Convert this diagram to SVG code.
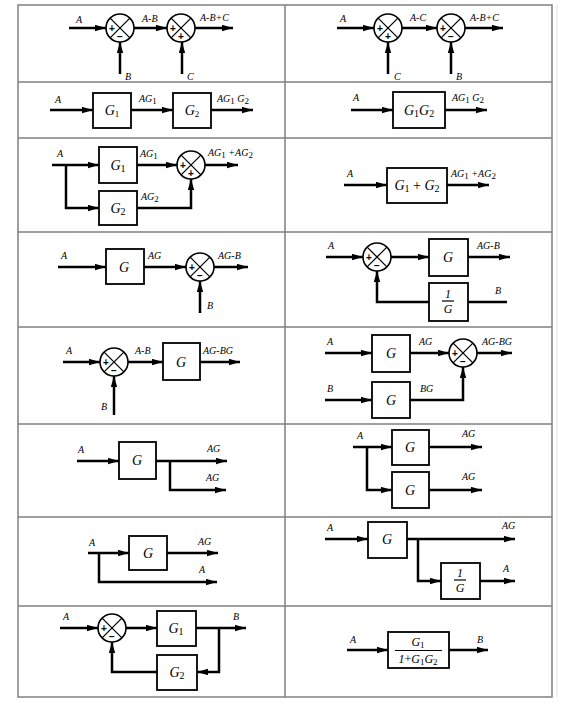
<svg xmlns="http://www.w3.org/2000/svg" xmlns:xlink="http://www.w3.org/1999/xlink" width="579" height="704" viewBox="0 0 579 704">
<style>
.t{font-family:"Liberation Serif","Times New Roman",serif;font-style:italic;font-size:10px;fill:#000}
.g{font-family:"Liberation Serif","Times New Roman",serif;font-style:italic;font-size:14px;fill:#000;text-anchor:middle}
.s{font-size:9px;font-style:normal}
.sg{font-family:"Liberation Sans",Arial,sans-serif;font-weight:bold;font-size:10px;text-anchor:middle;fill:#000}
.ln{stroke:#000;stroke-width:2.5;fill:none}
.ar{marker-end:url(#ah)}
.box{fill:#fff;stroke:#000;stroke-width:1.8}
.grid{stroke:#808080;stroke-width:1.5;fill:none}
</style>
<defs>
<marker id="ah" markerUnits="userSpaceOnUse" markerWidth="12" markerHeight="8" refX="11" refY="3.2" orient="auto">
<path d="M0,0 L11,3.2 L0,6.4 z" fill="#000"/>
</marker>
<g id="sj">
<circle r="14" fill="#fff" stroke="#000" stroke-width="1.6"/>
<path d="M-9.9,-9.9 L9.9,9.9 M-9.9,9.9 L9.9,-9.9" stroke="#000" stroke-width="1.3"/>
</g>
</defs>
<rect width="579" height="704" fill="#fff"/>
<g id="table">
<rect class="grid" x="18" y="5" width="534" height="692"/>
<path class="grid" d="M285,5 V697 M18,82 H552 M18,138 H552 M18,232 H552 M18,327 H552 M18,424 H552 M18,517 H552 M18,606 H552"/>
<path d="M557,5 V697" stroke="#e2e2e2" stroke-width="1"/>
</g>
<g id="connectors">
<!-- row 1 left -->
<path class="ln ar" d="M69,28 H106"/>
<path class="ln ar" d="M134,28 H167"/>
<path class="ln ar" d="M195,28 H233"/>
<path class="ln ar" d="M120,74 V42"/>
<path class="ln ar" d="M182,74 V42"/>
<!-- row 1 right -->
<path class="ln ar" d="M337,28 H374"/>
<path class="ln ar" d="M402,28 H437"/>
<path class="ln ar" d="M465,28 H503"/>
<path class="ln ar" d="M388,74 V42"/>
<path class="ln ar" d="M451,74 V42"/>
<!-- row 2 -->
<path class="ln ar" d="M50,110 H93"/>
<path class="ln ar" d="M131,110 H173"/>
<path class="ln ar" d="M211,110 H253"/>
<path class="ln ar" d="M351,110 H393"/>
<path class="ln ar" d="M445,110 H487"/>
<!-- row 3 left -->
<path class="ln ar" d="M52,165 H99"/>
<path class="ln ar" d="M66,165 V208 H99"/>
<path class="ln ar" d="M137,165 H177"/>
<path class="ln ar" d="M137,208 H191 V179"/>
<path class="ln ar" d="M205,165 H238"/>
<!-- row 3 right -->
<path class="ln ar" d="M344,185 H387"/>
<path class="ln ar" d="M447,185 H489"/>
<!-- row 4 left -->
<path class="ln ar" d="M58,267 H106"/>
<path class="ln ar" d="M144,267 H186"/>
<path class="ln ar" d="M214,267 H248"/>
<path class="ln ar" d="M200,313 V281"/>
<!-- row 4 right -->
<path class="ln ar" d="M326,257 H363"/>
<path class="ln ar" d="M391,257 H429"/>
<path class="ln ar" d="M468,257 H510"/>
<path class="ln" d="M507,302 H468"/>
<path class="ln ar" d="M429,302 H377 V271"/>
<!-- row 5 left -->
<path class="ln ar" d="M63,362 H100"/>
<path class="ln ar" d="M128,362 H163"/>
<path class="ln ar" d="M200,362 H240"/>
<path class="ln ar" d="M114,415 V376"/>
<!-- row 5 right -->
<path class="ln ar" d="M325,353 H372"/>
<path class="ln ar" d="M410,353 H449"/>
<path class="ln ar" d="M477,353 H512"/>
<path class="ln ar" d="M325,400 H372"/>
<path class="ln ar" d="M410,400 H463 V367"/>
<!-- row 6 left -->
<path class="ln ar" d="M77,461 H119"/>
<path class="ln ar" d="M156,461 H227"/>
<path class="ln ar" d="M170,461 V490 H226"/>
<!-- row 6 right -->
<path class="ln ar" d="M353,447 H392"/>
<path class="ln ar" d="M367,447 V490 H392"/>
<path class="ln ar" d="M429,447 H482"/>
<path class="ln ar" d="M429,490 H482"/>
<!-- row 7 left -->
<path class="ln ar" d="M88,553 H129"/>
<path class="ln ar" d="M167,553 H218"/>
<path class="ln ar" d="M99,553 V582 H217"/>
<!-- row 7 right -->
<path class="ln ar" d="M325,539 H368"/>
<path class="ln ar" d="M407,539 H515"/>
<path class="ln ar" d="M418,539 V581 H441"/>
<path class="ln ar" d="M480,581 H515"/>
<!-- row 8 left -->
<path class="ln ar" d="M60,628 H98"/>
<path class="ln ar" d="M126,628 H157"/>
<path class="ln ar" d="M196,628 H246"/>
<path class="ln ar" d="M219,628 V672 H197"/>
<path class="ln ar" d="M157,672 H112 V642"/>
<!-- row 8 right -->
<path class="ln ar" d="M347,650 H388"/>
<path class="ln ar" d="M449,650 H488"/>
</g>
<g id="labels">
<text class="t" x="76" y="23">A</text>
<text class="t" x="142" y="22">A-B</text>
<text class="t" x="200" y="21">A-B+C</text>
<text class="t" x="125" y="80">B</text>
<text class="t" x="187" y="80">C</text>
<text class="t" x="340" y="22">A</text>
<text class="t" x="410" y="21">A-C</text>
<text class="t" x="470" y="21">A-B+C</text>
<text class="t" x="394" y="80">C</text>
<text class="t" x="456" y="80">B</text>
<text class="t" x="55" y="103">A</text>
<text class="t" x="139" y="102">AG<tspan class="s" dy="2">1</tspan></text>
<text class="t" x="217" y="102">AG<tspan class="s" dy="2">1</tspan><tspan dy="-2"> G</tspan><tspan class="s" dy="2">2</tspan></text>
<text class="t" x="353" y="101">A</text>
<text class="t" x="452" y="101">AG<tspan class="s" dy="2">1</tspan><tspan dy="-2"> G</tspan><tspan class="s" dy="2">2</tspan></text>
<text class="t" x="57" y="157">A</text>
<text class="t" x="140" y="157">AG<tspan class="s" dy="2">1</tspan></text>
<text class="t" x="141" y="200">AG<tspan class="s" dy="2">2</tspan></text>
<text class="t" x="208" y="156">AG<tspan class="s" dy="2">1</tspan><tspan dy="-2"> +AG</tspan><tspan class="s" dy="2">2</tspan></text>
<text class="t" x="347" y="177">A</text>
<text class="t" x="451" y="177">AG<tspan class="s" dy="2">1</tspan><tspan dy="-2"> +AG</tspan><tspan class="s" dy="2">2</tspan></text>
<text class="t" x="61" y="259">A</text>
<text class="t" x="148" y="259">AG</text>
<text class="t" x="218" y="259">AG-B</text>
<text class="t" x="207" y="309">B</text>
<text class="t" x="328" y="249">A</text>
<text class="t" x="477" y="249">AG-B</text>
<text class="t" x="495" y="294">B</text>
<text class="t" x="66" y="354">A</text>
<text class="t" x="135" y="354">A-B</text>
<text class="t" x="203" y="354">AG-BG</text>
<text class="t" x="101" y="410">B</text>
<text class="t" x="327" y="345">A</text>
<text class="t" x="419" y="345">AG</text>
<text class="t" x="482" y="345">AG-BG</text>
<text class="t" x="327" y="392">B</text>
<text class="t" x="420" y="392">BG</text>
<text class="t" x="78" y="453">A</text>
<text class="t" x="207" y="452">AG</text>
<text class="t" x="206" y="481">AG</text>
<text class="t" x="357" y="439">A</text>
<text class="t" x="462" y="437">AG</text>
<text class="t" x="462" y="480">AG</text>
<text class="t" x="89" y="546">A</text>
<text class="t" x="198" y="545">AG</text>
<text class="t" x="199" y="573">A</text>
<text class="t" x="327" y="531">A</text>
<text class="t" x="502" y="529">AG</text>
<text class="t" x="503" y="572">A</text>
<text class="t" x="63" y="620">A</text>
<text class="t" x="233" y="620">B</text>
<text class="t" x="350" y="643">A</text>
<text class="t" x="477" y="643">B</text>
</g>
<!-- summing junctions -->
<g id="r1l-sum1"><use xlink:href="#sj" x="120" y="28"/><text class="sg" x="112" y="32">+</text><text class="sg" x="120" y="40">−</text></g>
<g id="r1l-sum2"><use xlink:href="#sj" x="181" y="28"/><text class="sg" x="173" y="32">+</text><text class="sg" x="181" y="40">+</text></g>
<g id="r1r-sum1"><use xlink:href="#sj" x="388" y="28"/><text class="sg" x="380" y="32">+</text><text class="sg" x="388" y="40">+</text></g>
<g id="r1r-sum2"><use xlink:href="#sj" x="451" y="28"/><text class="sg" x="443" y="32">+</text><text class="sg" x="451" y="40">−</text></g>
<g id="r3l-sum"><use xlink:href="#sj" x="191" y="165"/><text class="sg" x="183" y="169">+</text><text class="sg" x="191" y="177">+</text></g>
<g id="r4l-sum"><use xlink:href="#sj" x="200" y="267"/><text class="sg" x="192" y="271">+</text><text class="sg" x="200" y="279">−</text></g>
<g id="r4r-sum"><use xlink:href="#sj" x="377" y="257"/><text class="sg" x="369" y="261">+</text><text class="sg" x="377" y="269">−</text></g>
<g id="r5l-sum"><use xlink:href="#sj" x="114" y="362"/><text class="sg" x="106" y="366">+</text><text class="sg" x="114" y="374">−</text></g>
<g id="r5r-sum"><use xlink:href="#sj" x="463" y="353"/><text class="sg" x="455" y="357">+</text><text class="sg" x="463" y="365">−</text></g>
<g id="r8l-sum"><use xlink:href="#sj" x="112" y="628"/><text class="sg" x="104" y="632">+</text><text class="sg" x="112" y="640">−</text></g>
<!-- blocks -->
<g id="r2l-G1"><rect class="box" x="93" y="93" width="38" height="35"/><text class="g" x="112" y="115">G<tspan class="s" font-size="10" dy="2">1</tspan></text></g>
<g id="r2l-G2"><rect class="box" x="173" y="93" width="38" height="35"/><text class="g" x="192" y="115">G<tspan class="s" font-size="10" dy="2">2</tspan></text></g>
<g id="r2r-G1G2"><rect class="box" x="393" y="92" width="52" height="36"/><text class="g" x="419" y="115">G<tspan style="font-size:10px;font-style:normal" dy="2">1</tspan><tspan dy="-2">G</tspan><tspan style="font-size:10px;font-style:normal" dy="2">2</tspan></text></g>
<g id="r3l-G1"><rect class="box" x="99" y="147" width="38" height="36"/><text class="g" x="118" y="170">G<tspan style="font-size:10px;font-style:normal" dy="2">1</tspan></text></g>
<g id="r3l-G2"><rect class="box" x="99" y="191" width="38" height="34"/><text class="g" x="118" y="213">G<tspan style="font-size:10px;font-style:normal" dy="2">2</tspan></text></g>
<g id="r3r-G1pG2"><rect class="box" x="387" y="168" width="60" height="35"/><text class="g" x="417" y="190">G<tspan style="font-size:10px;font-style:normal" dy="2">1</tspan><tspan dy="-2" style="font-style:normal"> + </tspan>G<tspan style="font-size:10px;font-style:normal" dy="2">2</tspan></text></g>
<g id="r4l-G"><rect class="box" x="106" y="249" width="38" height="35"/><text class="g" x="124" y="272">G</text></g>
<g id="r4r-G"><rect class="box" x="429" y="239" width="39" height="37"/><text class="g" x="448" y="262">G</text></g>
<g id="r4r-invG"><rect class="box" x="429" y="283" width="39" height="38"/><text class="g" x="448" y="298" style="font-size:12px">1</text><path d="M442,301 H454" stroke="#000" stroke-width="1.2"/><text class="g" x="448" y="313" style="font-size:12px">G</text></g>
<g id="r5l-G"><rect class="box" x="163" y="343" width="37" height="37"/><text class="g" x="181" y="367">G</text></g>
<g id="r5r-G1"><rect class="box" x="372" y="335" width="38" height="37"/><text class="g" x="391" y="358">G</text></g>
<g id="r5r-G2"><rect class="box" x="372" y="382" width="38" height="36"/><text class="g" x="391" y="405">G</text></g>
<g id="r6l-G"><rect class="box" x="119" y="442" width="37" height="37"/><text class="g" x="137" y="465">G</text></g>
<g id="r6r-G1"><rect class="box" x="392" y="430" width="37" height="35"/><text class="g" x="410" y="452">G</text></g>
<g id="r6r-G2"><rect class="box" x="392" y="472" width="37" height="36"/><text class="g" x="410" y="495">G</text></g>
<g id="r7l-G"><rect class="box" x="129" y="536" width="38" height="34"/><text class="g" x="148" y="558">G</text></g>
<g id="r7r-G"><rect class="box" x="368" y="522" width="39" height="36"/><text class="g" x="387" y="544">G</text></g>
<g id="r7r-invG"><rect class="box" x="441" y="563" width="39" height="36"/><text class="g" x="460" y="577" style="font-size:12px">1</text><path d="M454,580 H466" stroke="#000" stroke-width="1.2"/><text class="g" x="460" y="592" style="font-size:12px">G</text></g>
<g id="r8l-G1"><rect class="box" x="157" y="611" width="39" height="35"/><text class="g" x="176" y="633">G<tspan style="font-size:10px;font-style:normal" dy="2">1</tspan></text></g>
<g id="r8l-G2"><rect class="box" x="157" y="655" width="40" height="35"/><text class="g" x="177" y="677">G<tspan style="font-size:10px;font-style:normal" dy="2">2</tspan></text></g>
<g id="r8r-closed"><rect class="box" x="388" y="632" width="61" height="36"/><text class="g" x="418" y="646" style="font-size:12px">G<tspan style="font-size:9px;font-style:normal" dy="2">1</tspan></text><path d="M395,650.5 H442" stroke="#000" stroke-width="1.2"/><text class="g" x="418" y="663" style="font-size:12px">1<tspan style="font-style:normal">+</tspan>G<tspan style="font-size:9px;font-style:normal" dy="2">1</tspan><tspan dy="-2">G</tspan><tspan style="font-size:9px;font-style:normal" dy="2">2</tspan></text></g>
</svg>
